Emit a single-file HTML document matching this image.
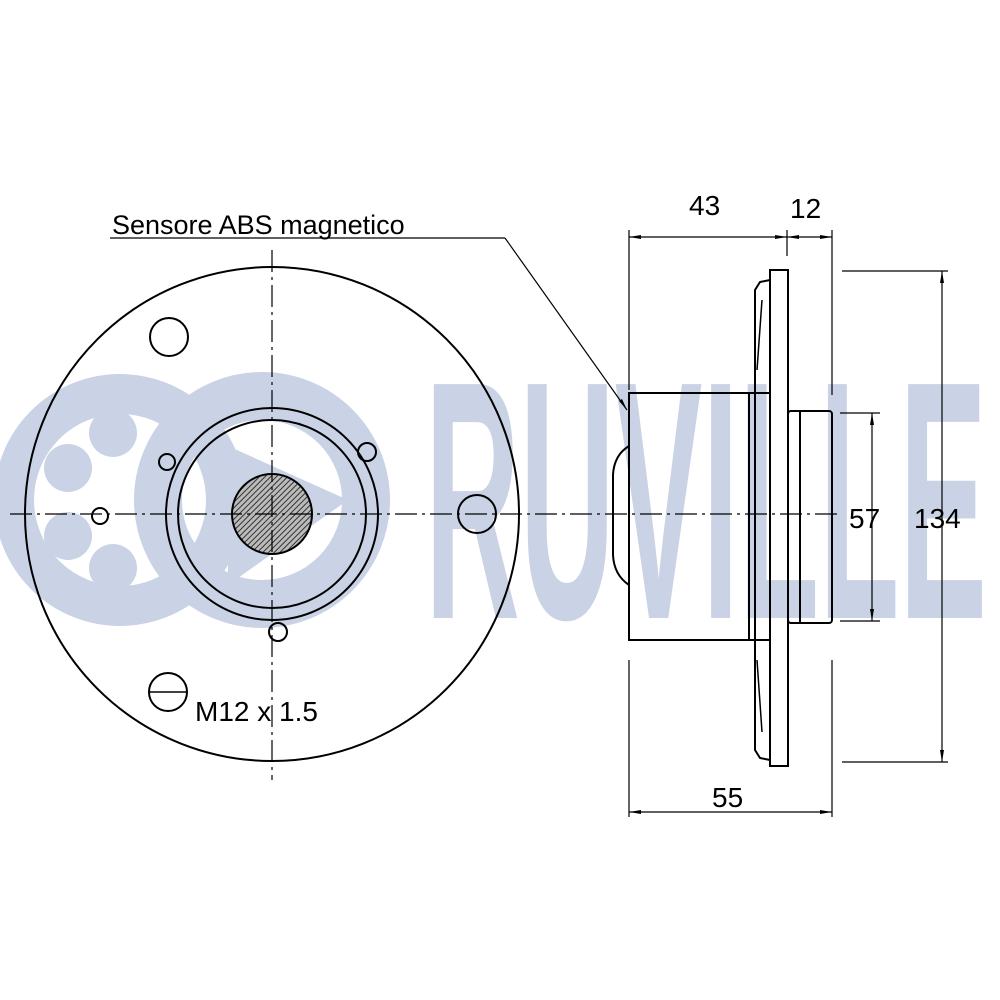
<!DOCTYPE html>
<html><head><meta charset="utf-8"><style>html,body{margin:0;padding:0;background:#fff}svg{display:block}</style></head>
<body>
<svg width="1000" height="1000" viewBox="0 0 1000 1000" xmlns="http://www.w3.org/2000/svg" font-family="Liberation Sans, sans-serif">
<defs>
<pattern id="h" width="4" height="4" patternUnits="userSpaceOnUse" patternTransform="rotate(45)">
<rect width="4" height="4" fill="#bbb"/><line x1="0" y1="0" x2="0" y2="4" stroke="#333" stroke-width="2"/></pattern>
</defs>
<!-- watermark -->
<g fill="#c9d3e5" stroke="none">
<circle cx="120" cy="500" r="106" fill="none" stroke="#c9d3e5" stroke-width="40"/>
<circle cx="113" cy="433" r="24"/><circle cx="68" cy="468" r="24"/><circle cx="68" cy="536" r="24"/><circle cx="113" cy="568" r="24"/>
<circle cx="262" cy="500" r="104" fill="none" stroke="#c9d3e5" stroke-width="48"/>
<polygon points="228,446 348,500 228,585"/>
<text x="425" y="618" font-size="340" font-weight="bold" textLength="562" lengthAdjust="spacingAndGlyphs">RUVILLE</text>
</g>
<g fill="none" stroke="#000" stroke-width="2">
<!-- left view -->
<circle cx="272" cy="514" r="247"/>
<circle cx="272" cy="514" r="106"/>
<circle cx="272" cy="514" r="94"/>
<circle cx="272" cy="514" r="40" fill="url(#h)"/>
<circle cx="167" cy="462" r="8"/>
<circle cx="367" cy="452" r="9"/>
<circle cx="100" cy="516" r="8"/>
<circle cx="278" cy="632" r="9"/>
<circle cx="477" cy="514" r="19"/>
<circle cx="169" cy="337" r="19"/>
<circle cx="168" cy="692" r="19"/>
<line x1="150" y1="692" x2="186" y2="692" stroke-width="1.5"/>
<!-- right view -->
<rect x="629" y="393" width="120" height="247"/>
<path d="M629 446 Q614 455 613 475 L613 555 Q614 575 629 585"/>
<rect x="770" y="270" width="18" height="496"/>
<path d="M770 280 L760 282 L755 290 L755 750 L760 758 L770 760"/>
<line x1="749" y1="393" x2="770" y2="393"/><line x1="749" y1="640" x2="770" y2="640"/>
<path d="M762 300 L757 370 M762 732 L757 660" stroke-width="1.5"/>
<rect x="788" y="411" width="44" height="212" rx="3"/>
<line x1="800" y1="411" x2="800" y2="623"/>
</g>
<!-- center lines -->
<g stroke="#000" stroke-width="1.2" stroke-dasharray="22,5,3,5" fill="none">
<line x1="10" y1="514" x2="840" y2="514"/>
<line x1="272" y1="250" x2="272" y2="780"/>
</g>
<!-- dimensions -->
<g stroke="#000" stroke-width="1.2" fill="none">
<line x1="629" y1="230" x2="629" y2="390"/>
<line x1="832" y1="230" x2="832" y2="395"/>
<line x1="832" y1="660" x2="832" y2="817"/>
<line x1="629" y1="660" x2="629" y2="817"/>
<line x1="787" y1="230" x2="787" y2="256"/>
<line x1="629" y1="237" x2="832" y2="237"/>
<line x1="629" y1="812" x2="832" y2="812"/>
<line x1="840" y1="413" x2="880" y2="413"/>
<line x1="840" y1="621" x2="880" y2="621"/>
<line x1="872" y1="413" x2="872" y2="621"/>
<line x1="842" y1="271" x2="948" y2="271"/>
<line x1="842" y1="762" x2="948" y2="762"/>
<line x1="942" y1="271" x2="942" y2="762"/>
<line x1="110" y1="238" x2="505" y2="238"/>
<line x1="505" y1="238" x2="627" y2="410"/>
</g>
<g fill="#000">
<polygon points="629,237 641,235 641,239"/><polygon points="787,237 775,235 775,239"/>
<polygon points="787,237 799,235 799,239"/><polygon points="832,237 820,235 820,239"/>
<polygon points="629,812 641,810 641,814"/><polygon points="832,812 820,810 820,814"/>
<polygon points="872,413 870,425 874,425"/><polygon points="872,621 870,609 874,609"/>
<polygon points="942,271 940,283 944,283"/><polygon points="942,762 940,750 944,750"/>
<polygon points="627,410 619,401 622,399"/>
</g>
<g font-size="28" fill="#000">
<text x="112" y="234" font-size="27">Sensore ABS magnetico</text>
<text x="689" y="215">43</text>
<text x="790" y="218">12</text>
<text x="849" y="528">57</text>
<text x="914" y="528">134</text>
<text x="712" y="807">55</text>
<text x="195" y="721">M12 x 1.5</text>
</g>
</svg>
</body></html>
